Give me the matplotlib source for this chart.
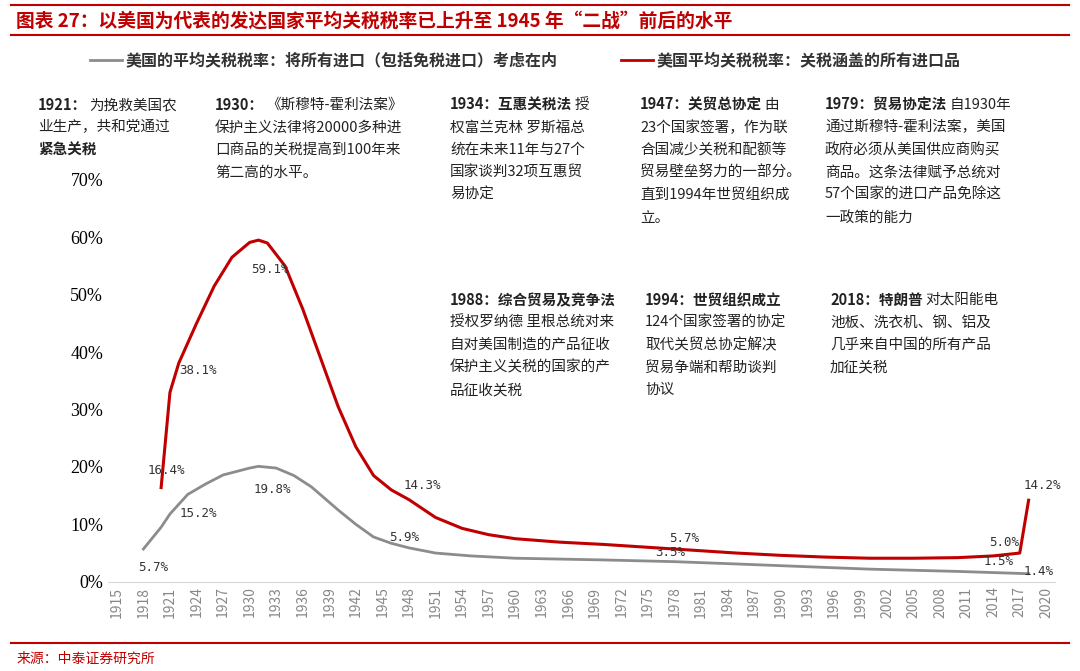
import matplotlib
matplotlib.use("Agg")
import matplotlib.pyplot as plt
from matplotlib.lines import Line2D

plt.rcParams["font.family"] = ["Noto Sans CJK SC", "DejaVu Sans"]

red_years = [1920, 1921, 1922, 1924, 1926, 1928, 1930, 1931, 1932, 1934, 1936, 1938, 1940, 1942, 1944, 1946, 1948, 1951, 1954, 1957, 1960, 1965, 1970, 1978, 1985, 1990, 1995, 2000, 2005, 2010, 2014, 2017, 2018]
red_vals = [16.4, 33.0, 38.1, 45.0, 51.5, 56.5, 59.1, 59.5, 59.0, 55.0, 47.5, 39.0, 30.5, 23.5, 18.5, 16.0, 14.3, 11.2, 9.3, 8.2, 7.5, 6.9, 6.5, 5.7, 5.0, 4.6, 4.3, 4.1, 4.1, 4.2, 4.5, 5.0, 14.2]
gray_years = [1918, 1920, 1921, 1923, 1925, 1927, 1930, 1931, 1933, 1935, 1937, 1940, 1942, 1944, 1946, 1948, 1951, 1955, 1960, 1970, 1978, 1985, 1990, 1995, 2000, 2005, 2010, 2014, 2018]
gray_vals = [5.7, 9.5, 11.8, 15.2, 17.0, 18.6, 19.8, 20.1, 19.8, 18.5, 16.5, 12.5, 10.0, 7.8, 6.7, 5.9, 5.0, 4.5, 4.1, 3.8, 3.5, 3.1, 2.8, 2.5, 2.2, 2.0, 1.8, 1.6, 1.4]

red_labels = [(1920, 16.4, "16.4%"), (1922, 38.1, "38.1%"), (1931, 59.1, "59.1%"), (1948, 14.3, "14.3%"), (1978, 5.7, "5.7%"), (2017, 5.0, "5.0%"), (2018, 14.2, "14.2%")]
gray_labels = [(1918, 5.7, "5.7%"), (1923, 15.2, "15.2%"), (1933, 19.8, "19.8%"), (1948, 5.9, "5.9%"), (1978, 3.5, "3.5%"), (2017, 1.5, "1.5%"), (2018, 1.4, "1.4%")]
tick_years = list(range(1915, 2021, 3))
yticks = [0, 10, 20, 30, 40, 50, 60, 70]

fig = plt.figure(figsize=(10.8, 6.71), dpi=100)
ax = fig.add_axes([0.1, 0.133, 0.877, 0.599])
ax.plot(red_years, red_vals, color="#c00000", lw=2.2)
ax.plot(gray_years, gray_vals, color="#8c8c8c", lw=2.0)
ax.set_xlim(1914, 2021)
ax.set_ylim(0, 70)
ax.set_yticks(yticks)
ax.set_yticklabels([f"{v}%" for v in yticks], fontsize=13, family="Liberation Serif")
ax.set_xticks(tick_years)
ax.set_xticklabels([str(y) for y in tick_years], rotation=90, fontsize=10, color="#888888")
for s in ["top", "right", "left"]:
    ax.spines[s].set_visible(False)
ax.spines["bottom"].set_color("#d9d9d9")
ax.tick_params(length=0)

offs = {"16.4%": (-10, 10), "38.1%": (0, -8), "59.1%": (-5, -22), "14.3%": (-4, 8),
        "5.7%": (-4, 5), "5.0%": (-22, 5), "14.2%": (-4, 8)}
for x, y, t in red_labels:
    dx, dy = offs[t]
    ax.annotate(t, (x, y), xytext=(dx, dy), textcoords="offset points", fontsize=9, color="#333333", family="DejaVu Sans Mono")
goffs = {"5.7%": (-4, -16), "15.2%": (-6, -16), "19.8%": (-16, -18), "5.9%": (-14, 5),
         "3.5%": (-14, 4), "1.5%": (-26, 6), "1.4%": (-4, -1)}
for x, y, t in gray_labels:
    dx, dy = goffs[t]
    ax.annotate(t, (x, y), xytext=(dx, dy), textcoords="offset points", fontsize=9, color="#333333", family="DejaVu Sans Mono")

# frame lines and title
for yy in [0.992, 0.948, 0.042]:
    fig.add_artist(Line2D([0.01, 0.99], [yy, yy], color="#c00000", lw=1.5))
fig.text(0.015, 0.968, "图表 27：以美国为代表的发达国家平均关税税率已上升至 1945 年“二战”前后的水平",
         color="#c00000", fontsize=13.5, fontweight="bold", style="italic", va="center")
fig.text(0.015, 0.018, "来源：中泰证券研究所", color="#c00000", fontsize=10, va="center")

# legend
fig.add_artist(Line2D([0.083, 0.113], [0.91, 0.91], color="#8c8c8c", lw=2))
fig.text(0.116, 0.91, "美国的平均关税税率：将所有进口（包括免税进口）考虑在内", fontsize=11.5, fontweight="bold", va="center", color="#333333")
fig.add_artist(Line2D([0.575, 0.605], [0.91, 0.91], color="#c00000", lw=2))
fig.text(0.608, 0.91, "美国平均关税税率：关税涵盖的所有进口品", fontsize=11.5, fontweight="bold", va="center", color="#333333")

notes = [
    (38, 105, "1921：", "为挽救美国农", ["业生产，共和党通过", "紧急关税"]),
    (215, 105, "1930：", "《斯穆特-霍利法案》", ["保护主义法律将20000多种进", "口商品的关税提高到100年来", "第二高的水平。"]),
    (450, 105, "1934：互惠关税法", "授", ["权富兰克林 罗斯福总", "统在未来11年与27个", "国家谈判32项互惠贸", "易协定"]),
    (640, 105, "1947：关贸总协定", "由", ["23个国家签署，作为联", "合国减少关税和配额等", "贸易壁垒努力的一部分。", "直到1994年世贸组织成", "立。"]),
    (825, 105, "1979：贸易协定法", "自1930年", ["通过斯穆特-霍利法案，美国", "政府必须从美国供应商购买", "商品。这条法律赋予总统对", "57个国家的进口产品免除这", "一政策的能力"]),
    (450, 300, "1988：综合贸易及竞争法", "", ["授权罗纳德 里根总统对来", "自对美国制造的产品征收", "保护主义关税的国家的产", "品征收关税"]),
    (645, 300, "1994：世贸组织成立", "", ["124个国家签署的协定", "取代关贸总协定解决", "贸易争端和帮助谈判", "协议"]),
    (830, 300, "2018：特朗普", "对太阳能电", ["池板、洗衣机、钢、铝及", "几乎来自中国的所有产品", "加征关税"]),
]
H = 671
lh = 22.5
for x, y, head, rest, lines in notes:
    t = fig.text(x / 1080, 1 - y / H, head, fontsize=10.5, fontweight="bold", va="center", color="#222222")
    if rest:
        fig.canvas.draw()
        bb = t.get_window_extent()
        fig.text(bb.x1 / 1080 + 0.002, 1 - y / H, rest, fontsize=10.5, va="center", color="#222222")
    for i, ln in enumerate(lines):
        fw = "bold" if ln == "紧急关税" else "normal"
        fig.text(x / 1080, 1 - (y + lh * (i + 1)) / H, ln, fontsize=10.5, va="center", color="#222222", fontweight=fw)

fig.savefig("out.png", dpi=100)
